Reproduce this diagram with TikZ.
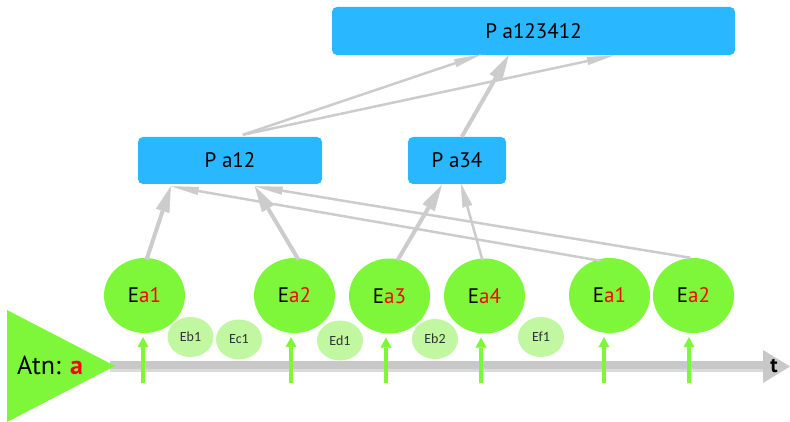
\documentclass[tikz,border=0pt]{standalone}
\usepackage{fontspec}
\setmainfont{PT Sans}
\newfontfamily\smallfont{Carlito}
\usetikzlibrary{arrows.meta,shapes.geometric,calc}

\definecolor{boxblue}{RGB}{41,183,255}
\definecolor{evgreen}{RGB}{126,246,58}
\definecolor{evlight}{RGB}{194,247,162}
\definecolor{linkgray}{RGB}{204,204,204}
\definecolor{axisgray}{RGB}{200,200,200}
\definecolor{axislight}{RGB}{218,218,218}
\definecolor{lblred}{RGB}{255,0,0}

\tikzset{
  pbox/.style={fill=boxblue, rounded corners=5pt, inner sep=0pt,
    font=\fontsize{21}{25}\selectfont},
  bigev/.style={ellipse, fill=evgreen, minimum width=81pt, minimum height=75pt,
    inner sep=0pt, font=\fontsize{21}{25}\selectfont},
  smallev/.style={ellipse, fill=evlight, minimum width=46pt, minimum height=40pt,
    inner sep=0pt, text=black!80, font=\smallfont\fontsize{14}{16}\selectfont},
  thicklink/.style={draw=linkgray, line width=4pt,
    -{Triangle[length=26pt,width=14pt,line width=0.5pt]}},
  midlink/.style={draw=linkgray, line width=2.5pt,
    -{Triangle[length=24pt,width=10pt,line width=0.5pt]}},
  thinlink/.style={draw=linkgray, line width=2.5pt,
    -{Triangle[length=28pt,width=8pt,line width=0.5pt]}},
  trigger/.style={draw=evgreen, line width=3.5pt,
    -{Triangle[length=10pt,width=11pt,line width=0.5pt]}},
}

\begin{document}
\begin{tikzpicture}[x=1pt,y=-1pt]
\useasboundingbox (0,0) rectangle (790,422);

% time axis
\fill[axisgray] (110,361) rectangle (764,369);
\fill[axislight] (110,369) rectangle (764,372);
\fill[axisgray] (763,350) -- (790,366.5) -- (763,383) -- cycle;
\node[font=\bfseries\fontsize{21}{25}\selectfont, inner sep=0pt] (tlabel) at (774,366) {t};

% attention marker
\fill[evgreen] (7,310) -- (115,366) -- (7,422) -- cycle;
\node[anchor=west, inner sep=0pt, font=\fontsize{26}{30}\selectfont] (atn) at (17,365)
  {Atn: \textcolor{lblred}{\bfseries a}};

% patterns
\node[pbox, minimum width=403pt, minimum height=48pt] (ptop) at (533.5,31) {P a123412};
\node[pbox, minimum width=184pt, minimum height=47pt] (pa12) at (230,160.5) {P a12};
\node[pbox, minimum width=98pt, minimum height=47pt] (pa34) at (457,160.5) {P a34};

% events
\node[bigev] (e1) at (144.5,295.5) {E\textcolor{lblred}{a1}};
\node[bigev] (e2) at (294.5,295.5) {E\textcolor{lblred}{a2}};
\node[bigev] (e3) at (389.5,296) {E\textcolor{lblred}{a3}};
\node[bigev] (e4) at (484.5,296) {E\textcolor{lblred}{a4}};
\node[bigev] (e5) at (609.5,295.5) {E\textcolor{lblred}{a1}};
\node[bigev] (e6) at (693.5,295.5) {E\textcolor{lblred}{a2}};

\node[smallev] (eb1) at (190.5,337) {Eb1};
\node[smallev] (ec1) at (239,339.5) {Ec1};
\node[smallev] (ed1) at (340,340.5) {Ed1};
\node[smallev] (eb2) at (435,339) {Eb2};
\node[smallev] (ef1) at (541,337) {Ef1};

% triggers from the time axis
\coordinate (g1) at (143,383);
\coordinate (g2) at (291,383);
\coordinate (g3) at (386,383);
\coordinate (g4) at (481,383);
\coordinate (g5) at (604,383);
\coordinate (g6) at (689,383);
\foreach \g/\e in {g1/e1,g2/e2,g3/e3,g4/e4,g5/e5,g6/e6}
  \draw[trigger] (\g) -- ($(\g |- \e.south)+(0,4)$);

% events to first-level patterns
\draw[thinlink] ($(e5.north)+(-9,3)$) -- ($(pa12.south west)+(33,2)$);
\draw[thinlink] ($(e6.north)+(-3,0)$) -- ($(pa12.south west)+(117,2)$);
\draw[thicklink] ($(e1.north)+(2,2)$) -- ($(pa12.south west)+(33,2)$);
\draw[thicklink] ($(e2.north)+(4,2)$) -- ($(pa12.south west)+(117,2)$);
\draw[thicklink] ($(e3.north)+(8,2)$) -- ($(pa34.south west)+(34,1)$);
\draw[midlink] ($(e4.north)+(-2,2)$) -- ($(pa34.south west)+(53,-1)$);

% first-level patterns to the combined pattern
\draw[thinlink] ($(pa12.north west)+(105,-2)$) -- ($(ptop.south west)+(150,-1)$);
\draw[thinlink] ($(pa12.north west)+(105,-2)$) -- ($(ptop.south west)+(283,0)$);
\draw[thicklink] ($(pa34.north west)+(54,0)$) -- ($(ptop.south west)+(177,0)$);
\end{tikzpicture}
\end{document}
